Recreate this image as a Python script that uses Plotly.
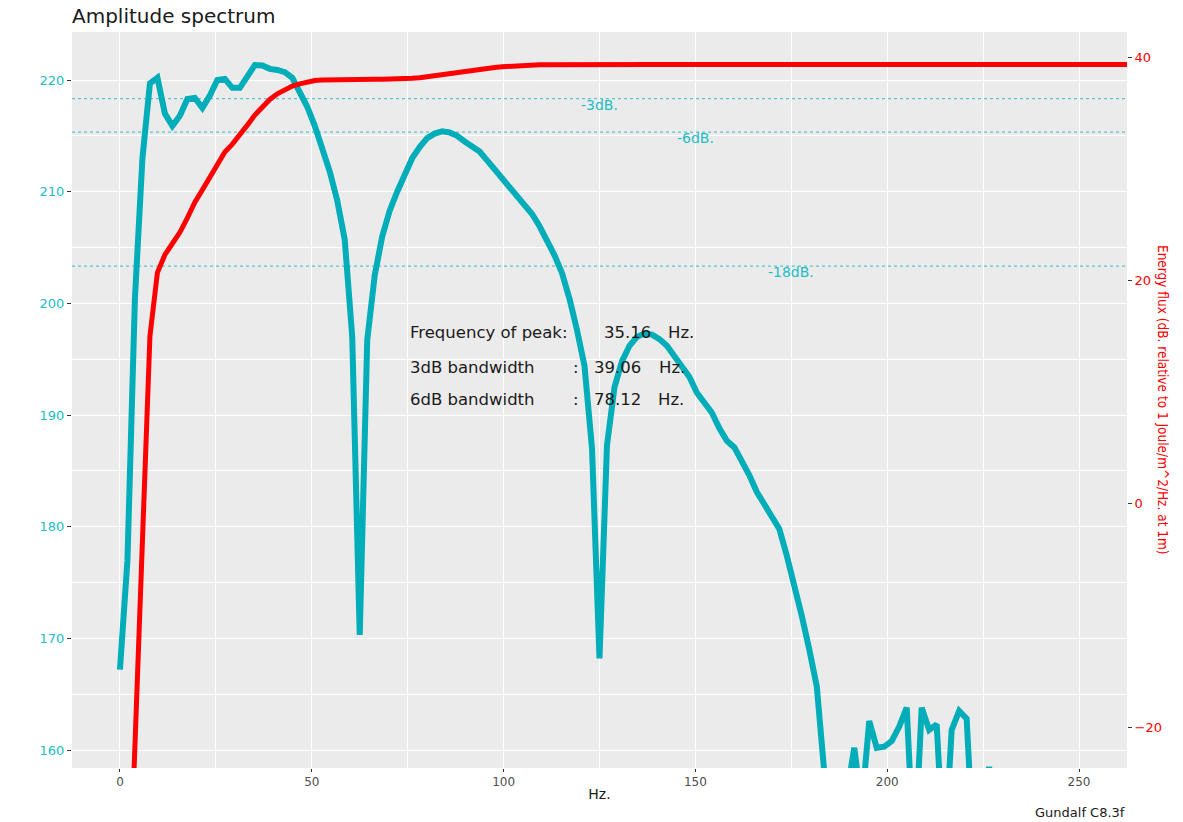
import numpy as np
import plotly.graph_objects as go

# Frequency grid: 500 Hz / 256 bins
df_hz = 500.0 / 256.0

# Amplitude spectrum (dB re 1 microPa/Hz at 1 m), one value per bin
amp_db = [
    167.2, 177.0, 200.5, 213.0, 219.7, 220.2, 217.0, 215.9, 216.8, 218.3,
    218.4, 217.5, 218.6, 220.0, 220.1, 219.3, 219.3, 220.4, 221.34, 221.3,
    221.0, 220.9, 220.7, 220.2, 219.0, 217.6, 215.9, 214.0, 211.8, 209.2,
    205.7, 197.0, 170.3, 196.7, 202.5, 206.0, 208.3, 210.0, 211.6, 213.0,
    214.0, 214.8, 215.2, 215.4, 215.3, 215.0, 214.5, 214.0, 213.6, 212.8,
    212.0, 211.3, 210.6, 209.8, 208.9, 208.0, 206.9, 205.7, 204.3, 202.7,
    200.4, 197.6, 194.4, 187.0, 168.2, 187.3, 192.5, 194.8, 196.2, 197.0,
    197.3, 197.2, 196.8, 196.2, 195.2, 194.3, 193.4, 192.0, 191.0, 190.2,
    188.8, 187.7, 187.1, 185.9, 184.6, 183.1, 182.0, 181.0, 179.8, 177.4,
    174.8, 172.0, 169.0, 165.7, 158.0, 152.0, 153.0, 156.0, 160.2, 155.0,
    162.6, 160.2, 160.3, 160.8, 162.1, 163.8, 150.0, 163.8, 161.8, 162.3,
    150.0, 161.8, 163.5, 162.8, 150.0, 150.0, 158.5, 150.0, 148.0, 147.0,
    146.0, 145.0, 145.0, 144.0, 144.0, 143.0, 143.0, 142.0, 142.0, 141.0,
    141.0, 140.0, 140.0, 140.0, 139.0, 139.0,
]

# Cumulative energy flux (dB re 1 J/m^2/Hz at 1 m), starting at bin 1
flux_db = [
    -40.0, -21.0, -2.0, 15.0, 20.7, 22.3, 23.3, 24.3, 25.6,
    27.0, 28.1, 29.2, 30.5, 31.5, 32.2, 33.0, 33.9, 34.8, 35.5,
    36.2, 36.7, 37.1, 37.4, 37.6, 37.8, 37.9, 37.95, 37.97, 37.98,
    38.0, 38.0, 38.0, 38.0, 38.0, 38.0, 38.0, 38.02, 38.05, 38.1,
    38.15, 38.25, 38.35, 38.45, 38.55, 38.65, 38.75, 38.85, 38.93, 39.0,
    39.07, 39.13, 39.18, 39.22, 39.25, 39.28, 39.3, 39.31, 39.32, 39.33,
]
flux_db = flux_db + [39.34] * (len(amp_db) - 1 - len(flux_db))

freq_amp = [i * df_hz for i in range(len(amp_db))]
freq_flux = [(i + 1) * df_hz for i in range(len(flux_db))]

peak_db = max(amp_db)
level_drops = [3, 6, 18]
level_label_x = [125, 150, 175]

# Summary statistics printed inside the panel
stats_labels = ["Frequency of peak:", "3dB bandwidth", "6dB bandwidth"]
stats_values = [35.16, 39.06, 78.12]
stats_unit = "Hz."
stats_y = [197.4, 194.3, 191.4]
# column positions (Hz) for label / colon / value / unit
col_label = 75.0
col_colon = [None, 118.8, 118.8]
col_value = [132.2, 129.6, 129.6]
col_unit = [146.2, 143.9, 143.6]

CYAN_LINE = "#00ADB8"
CYAN_TEXT = "#22BDC6"
CYAN_DOT = "#5CC6CE"
RED = "#FF0000"
INK = "#1a1a1a"
FONT = "DejaVu Sans, Verdana, sans-serif"
NARROW = "DejaVu Sans Condensed, Liberation Sans Narrow, Roboto Condensed, DejaVu Sans, sans-serif"

fig = go.Figure()

fig.add_trace(go.Scatter(
    x=freq_amp, y=amp_db, mode="lines",
    line=dict(color=CYAN_LINE, width=6),
    yaxis="y", showlegend=False, hoverinfo="skip",
))
fig.add_trace(go.Scatter(
    x=freq_flux, y=flux_db, mode="lines",
    line=dict(color=RED, width=5),
    yaxis="y2", showlegend=False, hoverinfo="skip",
))

# Reference levels below the peak
for drop, lx in zip(level_drops, level_label_x):
    lvl = peak_db - drop
    fig.add_shape(type="line", xref="paper", x0=0, x1=1, yref="y", y0=lvl, y1=lvl,
                  line=dict(color=CYAN_DOT, width=1.2, dash="dot"), layer="below")
    fig.add_annotation(x=lx, y=lvl, xref="x", yref="y", text=f"-{drop}dB.",
                       showarrow=False, yshift=-6,
                       font=dict(family=FONT, size=14, color=CYAN_TEXT))

stat_font = dict(family=FONT, size=16.5, color=INK)
for i, (lab, val, yy) in enumerate(zip(stats_labels, stats_values, stats_y)):
    fig.add_annotation(x=col_label, y=yy, xref="x", yref="y", text=lab,
                       showarrow=False, xanchor="left", font=stat_font)
    if col_colon[i] is not None:
        fig.add_annotation(x=col_colon[i], y=yy, xref="x", yref="y", text=":",
                           showarrow=False, xanchor="center", font=stat_font)
    fig.add_annotation(x=col_value[i], y=yy, xref="x", yref="y", text=f"{val:.2f}",
                       showarrow=False, xanchor="center", font=stat_font)
    fig.add_annotation(x=col_unit[i], y=yy, xref="x", yref="y", text=stats_unit,
                       showarrow=False, xanchor="center", font=stat_font)

# Axis titles and caption
fig.add_annotation(x=20, y=0.5, xref="paper", yref="paper", xanchor="center", yanchor="middle",
                   text="Amplitude spectrum (dB. rel. 1microPa/Hz at 1m.)", textangle=-90,
                   showarrow=False, font=dict(family=NARROW, size=14, color=CYAN_TEXT))
fig.add_annotation(x=1, y=0.5, xref="paper", yref="paper", xshift=36, xanchor="center", yanchor="middle",
                   text="Energy flux (dB. relative to 1 Joule/m^2/Hz. at 1m)", textangle=90,
                   borderpad=0, showarrow=False, font=dict(family=NARROW, size=13.5, color=RED))
fig.add_annotation(x=1, y=0, xref="paper", yref="paper", xshift=0, yshift=-44,
                   xanchor="right", yanchor="middle", text="Gundalf C8.3f",
                   showarrow=False, font=dict(family=FONT, size=13, color=INK))

fig.update_layout(
    width=1183, height=822,
    margin=dict(l=72, r=56, t=32, b=54),
    paper_bgcolor="white", plot_bgcolor="#EBEBEB",
    title=dict(text="Amplitude spectrum", x=72 / 1183, xanchor="left", y=1 - 16 / 822,
               yanchor="middle", font=dict(family=FONT, size=20, color=INK)),
    xaxis=dict(
        range=[-12.5, 262.5], tickmode="linear", tick0=0, dtick=50,
        showgrid=True, gridcolor="white", gridwidth=1.2, zeroline=False,
        ticks="outside", ticklen=3, tickcolor="#333333",
        tickfont=dict(family=FONT, size=12, color="#4D4D4D"),
        minor=dict(dtick=25, showgrid=True, gridcolor="white", gridwidth=0.5, ticks=""),
        title=dict(text="Hz.", font=dict(family=FONT, size=14, color=INK), standoff=0),
        showline=False,
    ),
    yaxis=dict(
        range=[158.39, 224.3], tickmode="linear", tick0=160, dtick=10,
        showgrid=True, gridcolor="white", gridwidth=1.2, zeroline=False,
        ticks="outside", ticklen=4, tickcolor="#333333",
        tickfont=dict(family=FONT, size=13, color=CYAN_TEXT),
        minor=dict(dtick=5, showgrid=True, gridcolor="white", gridwidth=0.5, ticks=""),
        showline=False,
    ),
    yaxis2=dict(
        range=[-23.67, 42.24], tickmode="linear", tick0=-20, dtick=20,
        overlaying="y", side="right", showgrid=False, zeroline=False,
        ticks="outside", ticklen=4, tickcolor="#333333",
        tickfont=dict(family=FONT, size=13, color=RED),
        showline=False,
    ),
)

fig.write_html("out.html")
